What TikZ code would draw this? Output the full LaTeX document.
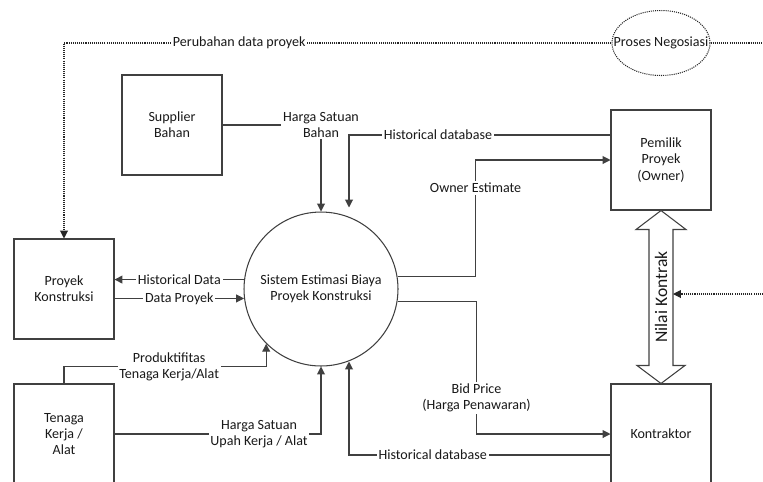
\documentclass[tikz,border=0pt]{standalone}
\usepackage{fontspec}
\setmainfont{Carlito}
\usetikzlibrary{arrows.meta,positioning,calc,shapes.geometric}

\begin{document}
\begin{tikzpicture}[x=0.02cm,y=-0.02cm,>={Triangle[length=4.5pt,width=4.5pt]},line width=0.6pt,draw=black!75,
  every node/.style={font=\fontsize{8}{9.2}\selectfont,align=center,text=black!90},
  entity/.style={draw,minimum width=2cm,minimum height=2cm},
  lbl/.style={fill=white,inner sep=1pt},
  dots/.style={draw=black!85,line width=0.6pt,dash pattern=on 0.6pt off 0.6pt}]
\useasboundingbox (0,0) rectangle (763,481);
\clip (0,0) rectangle (763,481);
% entitas luar
\node[entity] (supplier) at (172,125) {Supplier\\Bahan};
\node[entity] (proyek) at (64,289) {Proyek\\Konstruksi};
\node[entity] (tenaga) at (64,434) {Tenaga\\Kerja /\\Alat};
\node[entity] (owner) at (661,160) {Pemilik\\Proyek\\(Owner)};
\node[entity] (kontraktor) at (661,434) {Kontraktor};
% proses
\node[draw,circle,minimum size=3.08cm] (sistem) at (321,289) {Sistem Estimasi Biaya\\Proyek Konstruksi};
\node[dots,ellipse,minimum width=1.96cm,minimum height=1.3cm,inner sep=0pt,
  label=center:Proses Negosiasi] (nego) at (661,43) {};
\coordinate (rightA) at (763,43);
\coordinate (rightB) at (763,294);
\coordinate (shaft) at (673,294);
% aliran data
\draw[->] (supplier.east) -| node[lbl,pos=0.5] {Harga Satuan\\Bahan} (sistem.north);
\draw[->] ($(owner.west)+(0,-25)$) -| node[lbl,pos=0.33] {Historical database} ($(sistem.north)+(28,-4)$);
\draw[->] (sistem.9) -- ++(78,0) |- node[lbl,pos=0.38] {Owner Estimate} (owner.west);
\draw[->] (sistem.-9) -- ++(79,0) |- node[lbl,pos=0.365] {Bid Price\\(Harga Penawaran)} (kontraktor.west);
\draw[->] ($(kontraktor.west)+(0,21)$) -| node[lbl,pos=0.34] {Historical database} ($(sistem.south)+(28,-5)$);
\draw[->] (sistem.173) -- node[lbl] {Historical Data} (sistem.173 -| proyek.east);
\draw[->] (sistem.187 -| proyek.east) -- node[lbl] {Data Proyek} (sistem.187);
\draw[->] (tenaga.north) -- ++(0,-17) -| node[lbl,pos=0.26] {Produktifitas\\Tenaga Kerja/Alat} (sistem.225);
\draw[->] (tenaga.east) -| node[lbl,pos=0.35] {Harga Satuan\\Upah Kerja / Alat} (sistem.south);
% negosiasi
\draw[dots,->] (nego.west) -| node[lbl,pos=0.34] {Perubahan data proyek} (proyek.north);
\draw[dots] (nego.east) -- (rightA);
\draw[fill=white] (owner.south) -- ++(25,19) -- ++(-13,0) -- ($(kontraktor.north)+(12,-18)$) -- ++(12,0)
  -- (kontraktor.north) -- ++(-24,-18) -- ++(12,0) -- ($(owner.south)+(-12,19)$) -- ++(-13,0) -- cycle;
\node[rotate=90,font=\fontsize{10}{12}\selectfont] (nilai) at ($(owner.south)!0.5!(kontraktor.north)$) {Nilai Kontrak};
\draw[dots,->] (rightB) -- (shaft);
\end{tikzpicture}
\end{document}
